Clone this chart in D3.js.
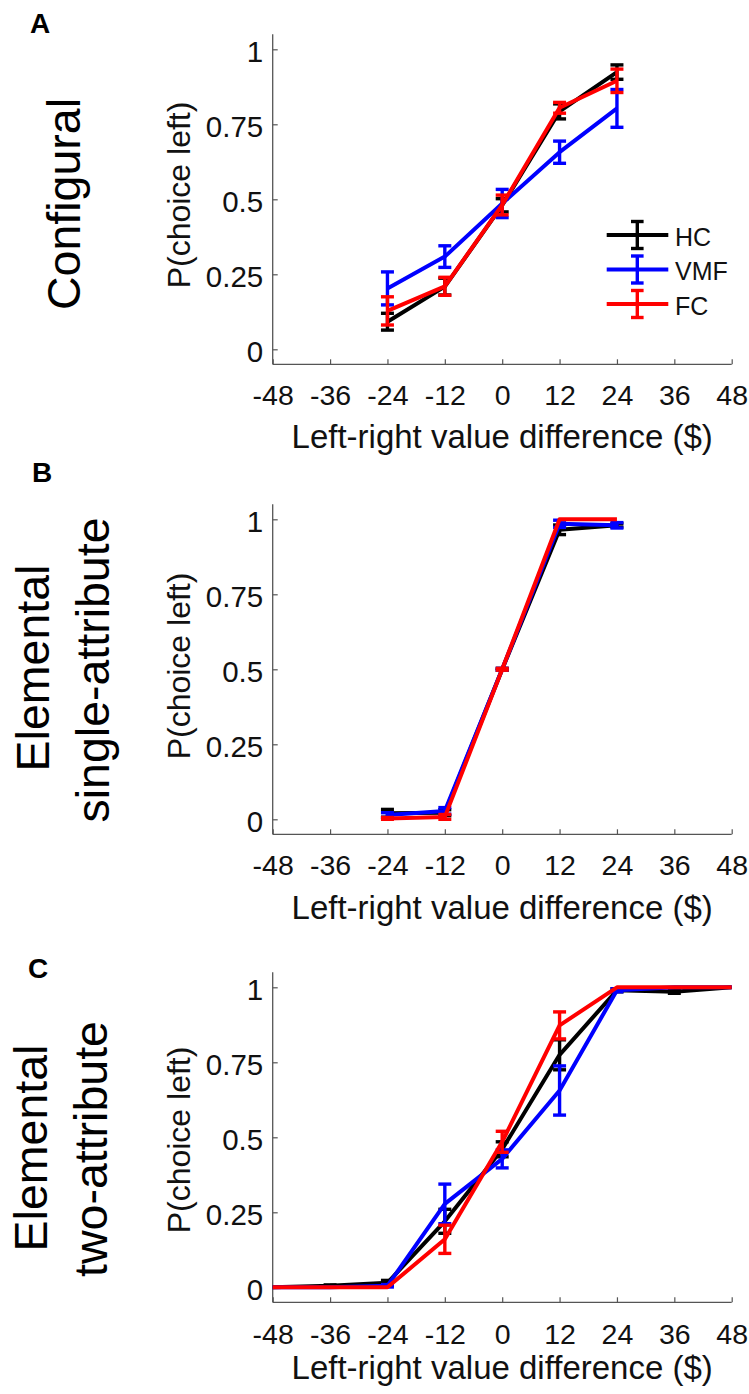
<!DOCTYPE html>
<html>
<head>
<meta charset="utf-8">
<script src="https://cdn.jsdelivr.net/npm/d3@7/dist/d3.min.js"></script>
<style>
  html, body { margin: 0; padding: 0; background: #fff; }
  svg { display: block; }
  text { font-family: "Liberation Sans", Arial, Helvetica, sans-serif; }
</style>
</head>
<body>
<svg id="chart" width="749" height="1394"></svg>
<script>
// ---------- data ----------
const groups = ["HC", "VMF", "FC"];
const xTicks = [-48, -36, -24, -12, 0, 12, 24, 36, 48];
const xTickLabels = ["-48", "-36", "-24", "-12", "0", "12", "24", "36", "48"];
const yTicks = [0, 0.25, 0.5, 0.75, 1];
const yTickLabels = ["0", "0.25", "0.5", "0.75", "1"];
const xAxisTitle = "Left-right value difference ($)";
const yAxisTitle = "P(choice left)";

// Panel A: Configural
const xA = [-24, -12, 0, 12, 24];
const hcA = [0.092, 0.209, 0.48, 0.793, 0.924];
const hcAErr = [0.028, 0.028, 0.022, 0.025, 0.024];
const vmfA = [0.203, 0.309, 0.486, 0.657, 0.803];
const vmfAErr = [0.055, 0.036, 0.047, 0.037, 0.063];
const fcA = [0.128, 0.21, 0.481, 0.805, 0.895];
const fcAErr = [0.047, 0.03, 0.033, 0.018, 0.039];

// Panel B: Elemental single-attribute
const xB = [-24, -12, 0, 12, 24];
const hcB = [0.02, 0.022, 0.5, 0.965, 0.98];
const hcBErr = [0.013, 0.01, 0.003, 0.016, 0.006];
const vmfB = [0.014, 0.028, 0.5, 0.985, 0.98];
const vmfBErr = [0.008, 0.011, 0.003, 0.012, 0.009];
const fcB = [0.003, 0.008, 0.5, 1.0, 1.0];
const fcBErr = [0.003, 0.008, 0.003, 0.0, 0.0];

// Panel C: Elemental two-attribute
const xC = [-48, -36, -24, -12, 0, 12, 24, 36, 48];
const hcC = [0.0, 0.005, 0.015, 0.22, 0.46, 0.775, 0.99, 0.985, 1.0];
const hcCErr = [0.0, 0.003, 0.008, 0.04, 0.025, 0.05, 0.005, 0.005, 0.0];
const vmfC = [0.0, 0.0, 0.005, 0.278, 0.428, 0.656, 0.99, 1.0, 1.0];
const vmfCErr = [0.0, 0.0, 0.004, 0.066, 0.03, 0.082, 0.005, 0.0, 0.0];
const fcC = [0.0, 0.0, 0.0, 0.16, 0.485, 0.873, 1.0, 1.0, 1.0];
const fcCErr = [0.0, 0.0, 0.0, 0.047, 0.035, 0.045, 0.0, 0.0, 0.0];

// ---------- styles / layout ----------
const colors = { HC: "#000000", VMF: "#0000ff", FC: "#ff0000" };
const axisColor = "#555555";
const textColor = "#111111";
const FONT = '"Liberation Sans", Arial, Helvetica, sans-serif';

const panels = [
  { letter: "A", letterPos: [30, 33], zeroY: 349.3,
    titles: [{ text: "Configural", x: 80, y: 204 }],
    yTitleY: 195, xTickDy: 41, xTitleDy: 84,
    x: xA, series: [[hcA, hcAErr], [vmfA, vmfAErr], [fcA, fcAErr]], legend: true },
  { letter: "B", letterPos: [32, 482], zeroY: 819.3,
    titles: [{ text: "Elemental", x: 48.5, y: 668 }, { text: "single-attribute", x: 108.5, y: 670 }],
    yTitleY: 666, xTickDy: 41, xTitleDy: 85,
    x: xB, series: [[hcB, hcBErr], [vmfB, vmfBErr], [fcB, fcBErr]], legend: false },
  { letter: "C", letterPos: [28, 978], zeroY: 1287.3,
    titles: [{ text: "Elemental", x: 46.7, y: 1148 }, { text: "two-attribute", x: 106.7, y: 1149 }],
    yTitleY: 1140, xTickDy: 42, xTitleDy: 77,
    x: xC, series: [[hcC, hcCErr], [vmfC, vmfCErr], [fcC, fcCErr]], legend: false }
];

const svg = d3.select("#chart");
const x = d3.scaleLinear().domain([-48, 48]).range([272.7, 731.7]);

panels.forEach(p => {
  const y = d3.scaleLinear().domain([-0.05, 1.05]).range([p.zeroY + 15, p.zeroY - 315]);
  const g = svg.append("g");

  // panel letter
  g.append("text").attr("x", p.letterPos[0]).attr("y", p.letterPos[1])
    .attr("font-size", 28).attr("font-weight", "bold").attr("fill", "#000").text(p.letter);

  // row titles (rotated)
  p.titles.forEach(t => {
    g.append("text").attr("transform", `translate(${t.x},${t.y}) rotate(-90)`)
      .attr("text-anchor", "middle").attr("font-size", 46.5).attr("fill", "#000").text(t.text);
  });

  // axes
  const xAxis = d3.axisBottom(x).tickValues(xTicks).tickSize(-5).tickSizeOuter(0).tickPadding(0)
    .tickFormat((d, i) => xTickLabels[i]);
  const gx = g.append("g").attr("transform", `translate(0,${y(-0.05)})`).call(xAxis)
    .attr("font-family", FONT);
  gx.select(".domain").attr("stroke", axisColor).attr("stroke-width", 1.3)
    .attr("d", `M${x(-48)},0H${x(48)}`);
  gx.selectAll(".tick line").attr("stroke", axisColor).attr("stroke-width", 1.2);
  gx.selectAll(".tick text").attr("y", p.xTickDy).attr("dy", null)
    .attr("font-size", 28.5).attr("fill", textColor);

  const yAxis = d3.axisLeft(y).tickValues(yTicks).tickSize(-5).tickSizeOuter(0).tickPadding(0)
    .tickFormat((d, i) => yTickLabels[i]);
  const gy = g.append("g").attr("transform", `translate(${x(-48)},0)`).call(yAxis)
    .attr("font-family", FONT);
  gy.select(".domain").attr("stroke", axisColor).attr("stroke-width", 1.3)
    .attr("d", `M0,${y(1.05)}V${y(-0.05)}`);
  gy.selectAll(".tick line").attr("stroke", axisColor).attr("stroke-width", 1.2);
  gy.selectAll(".tick text").attr("x", -9.5).attr("dy", "0.43em")
    .attr("font-size", 29.5).attr("fill", textColor);

  // axis titles
  g.append("text").attr("x", x(0)).attr("y", y(-0.05) + p.xTitleDy)
    .attr("text-anchor", "middle").attr("font-size", 33).attr("fill", textColor).text(xAxisTitle);
  g.append("text").attr("transform", `translate(189.5,${p.yTitleY}) rotate(-90)`)
    .attr("text-anchor", "middle").attr("font-size", 32).attr("fill", textColor).text(yAxisTitle);

  // series
  const line = d3.line().x(d => x(d.x)).y(d => y(d.v));
  p.series.forEach((s, si) => {
    const name = groups[si];
    const pts = p.x.map((xv, i) => ({ x: xv, v: s[0][i], e: s[1][i] }));
    const sg = g.append("g");
    sg.append("path").datum(pts).attr("d", line).attr("fill", "none")
      .attr("stroke", colors[name]).attr("stroke-width", 4).attr("stroke-linejoin", "round");
    const eb = sg.selectAll("g.eb").data(pts.filter(d => d.e > 0)).enter().append("g")
      .attr("stroke", colors[name]).attr("stroke-width", 3.4);
    eb.append("line").attr("x1", d => x(d.x)).attr("x2", d => x(d.x))
      .attr("y1", d => y(d.v + d.e)).attr("y2", d => y(d.v - d.e));
    eb.append("line").attr("x1", d => x(d.x) - 6.5).attr("x2", d => x(d.x) + 6.5)
      .attr("y1", d => y(d.v + d.e)).attr("y2", d => y(d.v + d.e));
    eb.append("line").attr("x1", d => x(d.x) - 6.5).attr("x2", d => x(d.x) + 6.5)
      .attr("y1", d => y(d.v - d.e)).attr("y2", d => y(d.v - d.e));
  });

  // legend
  if (p.legend) {
    const rows = [235, 269.5, 304];
    groups.forEach((name, i) => {
      const ly = rows[i];
      const lg = g.append("g").attr("stroke", colors[name]);
      lg.append("line").attr("x1", 606.7).attr("x2", 668.3).attr("y1", ly).attr("y2", ly).attr("stroke-width", 4);
      lg.append("line").attr("x1", 637.3).attr("x2", 637.3).attr("y1", ly - 13.5).attr("y2", ly + 13.5).attr("stroke-width", 3.4);
      lg.append("line").attr("x1", 631).attr("x2", 643.6).attr("y1", ly - 13.5).attr("y2", ly - 13.5).attr("stroke-width", 3.4);
      lg.append("line").attr("x1", 631).attr("x2", 643.6).attr("y1", ly + 13.5).attr("y2", ly + 13.5).attr("stroke-width", 3.4);
      g.append("text").attr("x", 675).attr("y", ly + 10.7).attr("font-size", 25)
        .attr("fill", textColor).text(name);
    });
  }
});
</script>
</body>
</html>
